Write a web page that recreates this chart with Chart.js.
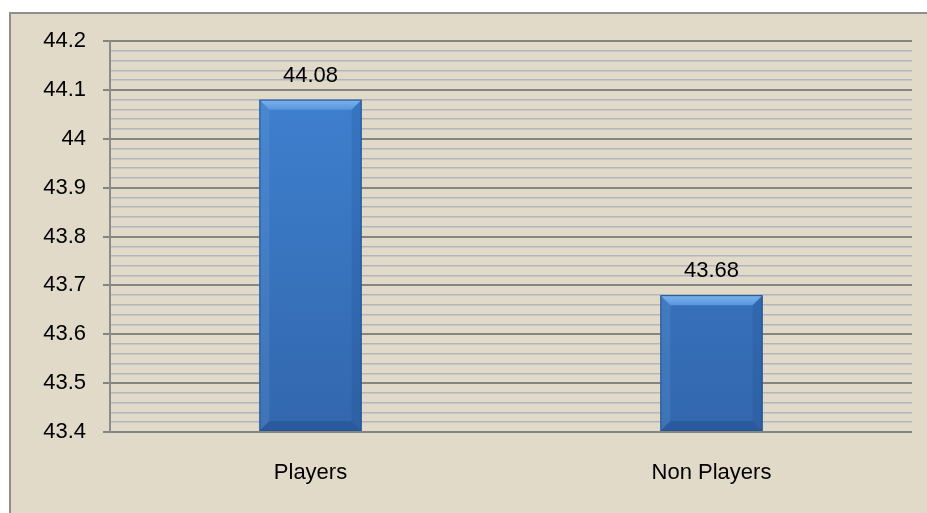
<!DOCTYPE html>
<html>
<head>
  <meta charset="utf-8">
  <title>Players vs Non Players</title>
  <script src="https://cdn.jsdelivr.net/npm/chart.js@4.4.1/dist/chart.umd.min.js"></script>
  <style>
    html, body { margin: 0; padding: 0; background: #fff; }
    #wrap { width: 927px; height: 513px; position: relative; }
  </style>
</head>
<body>
<div id="wrap"><canvas id="bar-chart"></canvas></div>
<script>
  // chart data
  var labels = ["Players", "Non Players"];
  var values = [44.08, 43.68];
  var yMin = 43.4, yMax = 44.2;

  function isMajor(v) {
    return Math.round(v * 100) % 10 === 0;
  }

  // panel behind everything
  var panelBg = {
    id: 'panelBg',
    beforeDraw: function (chart) {
      var c = chart.ctx;
      c.save();
      c.fillStyle = '#e2dac8';
      c.fillRect(9, 12, chart.width - 9, chart.height - 12);
      c.strokeStyle = '#8e8e8e';
      c.lineWidth = 2;
      c.beginPath();
      c.moveTo(10, chart.height);
      c.lineTo(10, 13);
      c.lineTo(chart.width, 13);
      c.stroke();
      c.restore();
    }
  };

  // bevel on bars + value labels
  var bevel = {
    id: 'bevel',
    afterDatasetsDraw: function (chart) {
      var c = chart.ctx;
      var meta = chart.getDatasetMeta(0);
      meta.data.forEach(function (bar, i) {
        var l = bar.x - bar.width / 2, r = bar.x + bar.width / 2;
        var t = bar.y, b = bar.base, d = 10;
        c.save();
        // top
        var tg = c.createLinearGradient(0, t, 0, t + d);
        tg.addColorStop(0, '#7cb3ee');
        tg.addColorStop(1, '#5a96dc');
        c.fillStyle = tg;
        c.beginPath();
        c.moveTo(l, t); c.lineTo(r, t); c.lineTo(r - d, t + d); c.lineTo(l + d, t + d); c.closePath();
        c.fill();
        // left
        c.fillStyle = 'rgba(120,170,230,0.18)';
        c.beginPath();
        c.moveTo(l, t); c.lineTo(l + d, t + d); c.lineTo(l + d, b - d); c.lineTo(l, b); c.closePath();
        c.fill();
        // right
        c.fillStyle = 'rgba(20,60,120,0.15)';
        c.beginPath();
        c.moveTo(r, t); c.lineTo(r - d, t + d); c.lineTo(r - d, b - d); c.lineTo(r, b); c.closePath();
        c.fill();
        // bottom
        c.fillStyle = 'rgba(20,50,110,0.25)';
        c.beginPath();
        c.moveTo(l, b); c.lineTo(l + d, b - d); c.lineTo(r - d, b - d); c.lineTo(r, b); c.closePath();
        c.fill();
        c.strokeStyle = '#24548f';
        c.lineWidth = 1;
        c.strokeRect(l + 0.5, t + 0.5, bar.width - 1, b - t - 1);
        // value label
        c.fillStyle = '#000';
        c.font = '22px "Liberation Sans", Arial, sans-serif';
        c.textAlign = 'center';
        c.textBaseline = 'alphabetic';
        c.fillText(values[i].toFixed(2), bar.x, t - 18);
        c.restore();
      });
    }
  };

  new Chart(document.getElementById('bar-chart'), {
    type: 'bar',
    data: {
      labels: labels,
      datasets: [{
        data: values,
        backgroundColor: function (ctx) {
          var area = ctx.chart.chartArea;
          if (!area) return '#3b78c4';
          var g = ctx.chart.ctx.createLinearGradient(0, area.top, 0, area.bottom);
          g.addColorStop(0, '#4084d4');
          g.addColorStop(1, '#3267ad');
          return g;
        },
        borderWidth: 0,
        base: yMin,
        barPercentage: 1,
        categoryPercentage: 0.255
      }]
    },
    options: {
      responsive: true,
      maintainAspectRatio: false,
      animation: false,
      layout: { padding: { left: 10, top: 41, right: 15, bottom: 0 } },
      plugins: {
        legend: { display: false },
        tooltip: { enabled: false }
      },
      scales: {
        x: {
          grid: { display: false, drawTicks: false },
          border: { display: false },
          ticks: {
            color: '#000',
            padding: 28,
            font: { family: '"Liberation Sans", Arial, sans-serif', size: 22 }
          },
          afterFit: function (s) { s.height = 81; }
        },
        y: {
          min: yMin,
          max: yMax,
          border: { display: true, color: '#8c8c8c', width: 2 },
          grid: {
            color: function (ctx) { return isMajor(ctx.tick.value) ? '#858585' : '#b2b5bc'; },
            lineWidth: function (ctx) { return isMajor(ctx.tick.value) ? 2 : 1.5; },
            tickColor: function (ctx) { return isMajor(ctx.tick.value) ? '#858585' : 'rgba(0,0,0,0)'; },
            tickLength: 7
          },
          ticks: {
            stepSize: 0.02,
            maxTicksLimit: 100,
            autoSkip: false,
            padding: 17,
            color: '#000',
            font: { family: '"Liberation Sans", Arial, sans-serif', size: 22 },
            callback: function (v) {
              return isMajor(v) ? String(Math.round(v * 10) / 10) : '';
            }
          },
          afterFit: function (s) { s.width = 100; }
        }
      }
    },
    plugins: [panelBg, bevel]
  });
</script>
</body>
</html>
